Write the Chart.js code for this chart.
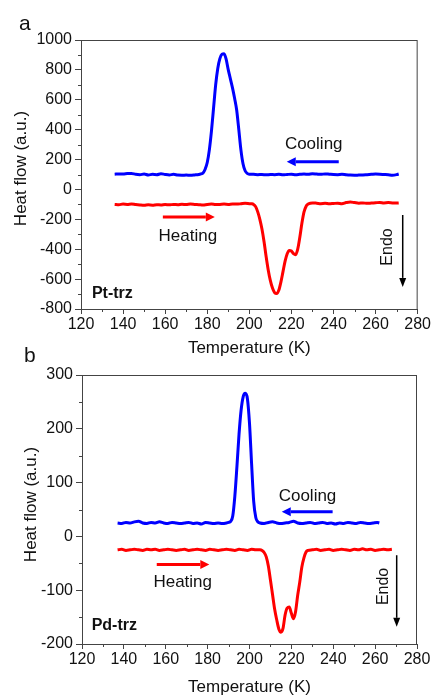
<!DOCTYPE html>
<html>
<head>
<meta charset="utf-8">
<script src="https://cdn.jsdelivr.net/npm/chart.js@4.4.1/dist/chart.umd.min.js"></script>
<style>
  body { margin: 0; background: #fff; width: 432px; height: 696px; position: relative; overflow: hidden; font-family: "Liberation Sans", Arial, sans-serif; }
  .panel { position: absolute; left: 0; width: 432px; }
  .tag { position: absolute; font-size: 21px; line-height: 1; color: #111; }
</style>
</head>
<body>
<div class="panel" style="top:0;height:359px"><canvas id="chartA"></canvas></div>
<div class="panel" style="top:340px;height:358px"><canvas id="chartB"></canvas></div>
<div class="tag" style="left:19px;top:12px">a</div>
<div class="tag" style="left:24px;top:344px">b</div>
<script>
// panel a : Pt-trz
const coolA_T = [136, 138, 140, 142, 144, 146, 148, 150, 152, 154, 156, 158, 160, 162, 164, 166, 168, 170, 172, 174, 176, 177, 178, 179, 180, 181, 182, 183, 184, 185, 186, 187, 188, 189, 190, 191, 192, 193, 194, 195, 196, 197, 198, 199, 200, 202, 204, 206, 208, 210, 212, 214, 216, 218, 220, 222, 224, 226, 228, 230, 232, 234, 236, 238, 240, 242, 244, 246, 248, 250, 252, 254, 256, 258, 260, 262, 264, 266, 268, 270, 271];
const coolA_Q = [102, 104, 103, 106, 107, 101, 99, 103, 97, 101, 99, 105, 100, 97, 101, 96, 95, 96, 95, 97, 100, 104, 110, 135, 180, 265, 390, 545, 700, 810, 875, 905, 908, 870, 800, 740, 680, 610, 530, 400, 265, 172, 125, 108, 102, 101, 99, 100, 98, 100, 99, 101, 98, 100, 102, 99, 101, 103, 101, 105, 103, 101, 104, 102, 100, 99, 101, 98, 96, 95, 96, 97, 99, 101, 103, 102, 100, 98, 95, 99, 103];

const heatA_T = [136, 138, 140, 142, 144, 146, 148, 150, 152, 154, 156, 158, 160, 162, 164, 166, 168, 170, 172, 174, 176, 178, 180, 182, 184, 186, 188, 190, 192, 194, 196, 198, 200, 201, 202, 203, 204, 205, 206, 207, 208, 209, 210, 211, 212, 213, 214, 215, 216, 217, 218, 219, 220, 221, 222, 223, 224, 225, 226, 227, 228, 229, 230, 232, 234, 236, 238, 240, 242, 244, 246, 248, 250, 252, 254, 256, 258, 260, 262, 264, 266, 268, 270, 271];
const heatA_Q = [-100, -102, -98, -100, -97, -101, -104, -106, -103, -105, -102, -104, -101, -103, -100, -102, -99, -101, -98, -100, -102, -104, -100, -98, -101, -100, -98, -100, -97, -98, -96, -93, -95, -96, -100, -115, -150, -200, -265, -350, -450, -540, -610, -660, -690, -697, -675, -620, -550, -480, -430, -408, -412, -430, -437, -400, -320, -225, -150, -112, -98, -92, -90, -92, -95, -93, -96, -94, -92, -95, -88, -84, -88, -92, -90, -93, -91, -89, -87, -90, -88, -90, -91, -90];

// panel b : Pd-trz
const coolB_T = [137, 139, 141, 143, 145, 147, 149, 151, 153, 155, 157, 159, 161, 163, 165, 167, 169, 171, 173, 175, 177, 179, 181, 183, 185, 187, 189, 190, 191, 192, 193, 194, 195, 196, 197, 198, 199, 200, 201, 202, 203, 204, 205, 207, 209, 211, 213, 215, 217, 219, 221, 223, 225, 227, 229, 231, 233, 235, 237, 239, 241, 243, 245, 247, 249, 251, 253, 255, 257, 259, 261, 262];
const coolB_Q = [25, 24, 26, 25, 27, 28, 25, 24, 26, 25, 27, 25, 24, 26, 25, 24, 25, 26, 24, 25, 23, 26, 25, 24, 25, 24, 25, 26, 28, 38, 75, 130, 190, 235, 260, 266, 256, 210, 135, 65, 35, 27, 25, 24, 26, 27, 25, 24, 25, 26, 28, 25, 24, 25, 26, 24, 25, 26, 24, 25, 23, 25, 24, 26, 25, 24, 26, 25, 24, 25, 26, 25];

const heatB_T = [137, 139, 141, 143, 145, 147, 149, 151, 153, 155, 157, 159, 161, 163, 165, 167, 169, 171, 173, 175, 177, 179, 181, 183, 185, 187, 189, 191, 193, 195, 197, 199, 201, 203, 205, 206, 207, 208, 209, 210, 211, 212, 213, 214, 215, 216, 217, 218, 219, 220, 221, 222, 223, 224, 225, 226, 227, 228, 230, 232, 234, 236, 238, 240, 242, 244, 246, 248, 250, 252, 254, 256, 258, 260, 262, 264, 266, 268];
const heatB_Q = [-25, -24, -26, -25, -24, -25, -26, -24, -25, -24, -26, -25, -24, -25, -26, -25, -24, -26, -25, -24, -25, -26, -24, -25, -26, -25, -24, -25, -26, -24, -25, -26, -24, -25, -25, -26, -30, -38, -55, -81, -108, -135, -155, -172, -178, -171, -146, -133, -131, -143, -153, -140, -110, -85, -57, -40, -29, -26, -25, -24, -26, -25, -24, -26, -25, -24, -25, -26, -24, -25, -23, -25, -24, -26, -25, -24, -25, -24];

const xTicks = { min: 120, max: 280, step: 20, minor: 10 };
const yTicksA = { min: -800, max: 1000, step: 200, minor: 100 };
const yTicksB = { min: -200, max: 300, step: 100, minor: 50 };

const xTitle = 'Temperature (K)';
const yTitle = 'Heat flow (a.u.)';

const axisColor = '#444';
const textColor = '#111';
const fontFamily = '"Liberation Sans", Arial, sans-serif';

function toPoints(xs, ys) {
    return xs.map((x, i) => ({ x: x, y: ys[i] }));
}

// arrows, labels and the sample name, placed in data units
const notesA = {
    name: 'Pt-trz', nameAt: [125.2, -695],
    cooling: [230.6, 304], coolArrow: [242.5, 217.8, 185],
    heating: [170.8, -312], heatArrow: [158.9, 183.6, -185],
    endo: [265.8, -385], endoArrow: [272.9, -171, -652],
    yTitleX: 21, yTitleShift: -6
};
const notesB = {
    name: 'Pd-trz', nameAt: [124.6, -165],
    cooling: [227.7, 74], coolArrow: [239.7, 215.4, 46],
    heating: [168.1, -86], heatArrow: [155.7, 180.8, -52],
    endo: [263.9, -93], endoArrow: [270.3, -35, -168],
    yTitleX: 31, yTitleShift: -5
};

function arrow(ctx, x1, y1, x2, y2, color, width, headLen, headHalf) {
    const ang = Math.atan2(y2 - y1, x2 - x1);
    const bx = x2 - headLen * Math.cos(ang);
    const by = y2 - headLen * Math.sin(ang);
    ctx.strokeStyle = color;
    ctx.fillStyle = color;
    ctx.lineWidth = width;
    ctx.beginPath();
    ctx.moveTo(x1, y1);
    ctx.lineTo(bx, by);
    ctx.stroke();
    ctx.beginPath();
    ctx.moveTo(x2, y2);
    ctx.lineTo(bx + headHalf * Math.sin(ang), by - headHalf * Math.cos(ang));
    ctx.lineTo(bx - headHalf * Math.sin(ang), by + headHalf * Math.cos(ang));
    ctx.closePath();
    ctx.fill();
}

const decorPlugin = {
    id: 'decor',
    afterDraw(chart) {
        const ctx = chart.ctx;
        const area = chart.chartArea;
        const xs = chart.scales.x;
        const ys = chart.scales.y;
        const n = chart.options.plugins.decor;
        const yt = n.yTicks;
        ctx.save();

        // frame on top and right
        ctx.strokeStyle = axisColor;
        ctx.lineWidth = 1;
        ctx.strokeRect(area.left + 0.5, area.top + 0.5, area.right - area.left - 1, area.bottom - area.top);

        // minor ticks
        ctx.beginPath();
        for (let v = xTicks.min + xTicks.minor; v < xTicks.max; v += xTicks.step) {
            const px = Math.round(xs.getPixelForValue(v)) + 0.5;
            ctx.moveTo(px, area.bottom);
            ctx.lineTo(px, area.bottom + 3);
        }
        for (let v = yt.min + yt.minor; v < yt.max; v += yt.step) {
            const py = Math.round(ys.getPixelForValue(v)) + 0.5;
            ctx.moveTo(area.left, py);
            ctx.lineTo(area.left - 3, py);
        }
        ctx.stroke();

        // y axis title
        ctx.fillStyle = textColor;
        ctx.font = '17px ' + fontFamily;
        ctx.textAlign = 'center';
        ctx.textBaseline = 'middle';
        ctx.save();
        ctx.translate(n.yTitleX, (area.top + area.bottom) / 2 + n.yTitleShift);
        ctx.rotate(-Math.PI / 2);
        ctx.fillText(yTitle, 0, 0);
        ctx.restore();

        // Cooling / Heating labels
        ctx.font = '17px ' + fontFamily;
        ctx.fillText('Cooling', xs.getPixelForValue(n.cooling[0]), ys.getPixelForValue(n.cooling[1]));
        ctx.fillText('Heating', xs.getPixelForValue(n.heating[0]), ys.getPixelForValue(n.heating[1]));

        // arrows
        const ca = n.coolArrow, ha = n.heatArrow, ea = n.endoArrow;
        arrow(ctx, xs.getPixelForValue(ca[0]), ys.getPixelForValue(ca[2]),
              xs.getPixelForValue(ca[1]), ys.getPixelForValue(ca[2]), '#0000ff', 3, 9, 4.5);
        arrow(ctx, xs.getPixelForValue(ha[0]), ys.getPixelForValue(ha[2]),
              xs.getPixelForValue(ha[1]), ys.getPixelForValue(ha[2]), '#ff0000', 3, 9, 4.5);
        arrow(ctx, xs.getPixelForValue(ea[0]), ys.getPixelForValue(ea[1]),
              xs.getPixelForValue(ea[0]), ys.getPixelForValue(ea[2]), '#000000', 1.5, 9, 3.5);

        // Endo, rotated
        ctx.fillStyle = textColor;
        ctx.font = '16px ' + fontFamily;
        ctx.save();
        ctx.translate(xs.getPixelForValue(n.endo[0]), ys.getPixelForValue(n.endo[1]));
        ctx.rotate(-Math.PI / 2);
        ctx.fillText('Endo', 0, 0);
        ctx.restore();

        // sample name
        ctx.font = 'bold 16px ' + fontFamily;
        ctx.textAlign = 'left';
        ctx.fillText(n.name, xs.getPixelForValue(n.nameAt[0]), ys.getPixelForValue(n.nameAt[1]));

        ctx.restore();
    }
};

function makeChart(canvasId, cool, heat, yt, notes, pad, yWidth, xHeight) {
    return new Chart(document.getElementById(canvasId), {
        type: 'line',
        data: {
            datasets: [{
                label: 'Cooling',
                data: cool,
                borderColor: '#0000ff',
                borderWidth: 3,
                pointRadius: 0,
                cubicInterpolationMode: 'monotone'
            }, {
                label: 'Heating',
                data: heat,
                borderColor: '#ff0000',
                borderWidth: 3,
                pointRadius: 0,
                cubicInterpolationMode: 'monotone'
            }]
        },
        options: {
            responsive: true,
            maintainAspectRatio: false,
            animation: false,
            layout: { padding: pad },
            plugins: {
                legend: { display: false },
                tooltip: { enabled: false },
                decor: Object.assign({ yTicks: yt }, notes)
            },
            scales: {
                x: {
                    type: 'linear',
                    min: xTicks.min,
                    max: xTicks.max,
                    ticks: { stepSize: xTicks.step, color: textColor, padding: 1, maxRotation: 0,
                             callback: v => String(v),
                             font: { family: fontFamily, size: 16 } },
                    grid: { drawOnChartArea: false, tickLength: 5, color: axisColor },
                    border: { color: axisColor, width: 1 },
                    title: { display: true, text: xTitle, color: textColor, padding: 0,
                             font: { family: fontFamily, size: 17 } },
                    afterFit: s => { s.height = xHeight; }
                },
                y: {
                    min: yt.min,
                    max: yt.max,
                    ticks: { stepSize: yt.step, color: textColor, padding: 3,
                             callback: v => String(v),
                             font: { family: fontFamily, size: 16 } },
                    grid: { drawOnChartArea: false, tickLength: 6, color: axisColor },
                    border: { color: axisColor, width: 1 },
                    afterFit: s => { s.width = yWidth; }
                }
            }
        },
        plugins: [decorPlugin]
    });
}

const chartA = makeChart('chartA', toPoints(coolA_T, coolA_Q), toPoints(heatA_T, heatA_Q),
    yTicksA, notesA, { top: 40, right: 14, left: 0, bottom: 0 }, 81, 50);

const chartB = makeChart('chartB', toPoints(coolB_T, coolB_Q), toPoints(heatB_T, heatB_Q),
    yTicksB, notesB, { top: 35, right: 15, left: 0, bottom: 0 }, 82, 54);
</script>
</body>
</html>
